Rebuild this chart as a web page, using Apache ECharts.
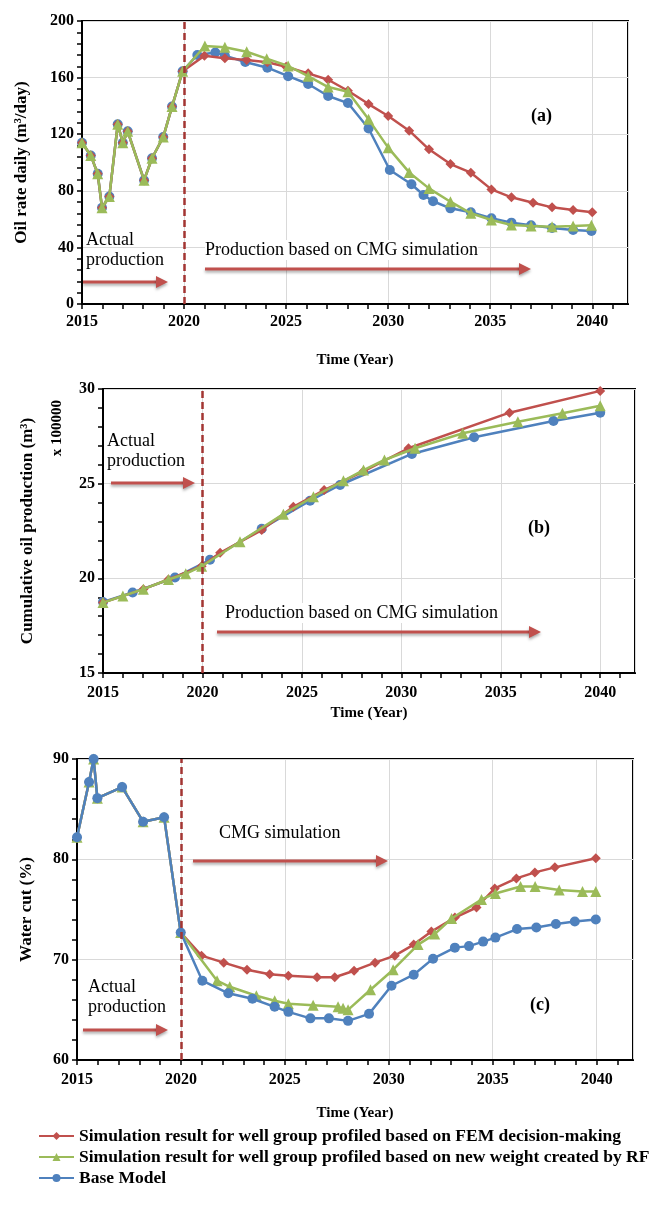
<!DOCTYPE html>
<html><head><meta charset="utf-8">
<script src="https://cdn.jsdelivr.net/npm/echarts@6/dist/echarts.min.js"></script>
<style>html,body{margin:0;padding:0;background:#fff}#c{width:652px;height:1211px}</style>
</head><body><div id="c"></div>
<script>
// ---------- DATA ----------
const seriesNames = [
  'Simulation result for well group profiled based on FEM decision-making',
  'Simulation result for well group profiled based on new weight created by RF',
  'Base Model'
];
const xTickLabels = [2015, 2020, 2025, 2030, 2035, 2040];

// Panel (a) oil rate daily
const a_histYears = [2015, 2015.43, 2015.77, 2015.98, 2016.34, 2016.75, 2017.0, 2017.24, 2018.04, 2018.43, 2018.98, 2019.41, 2019.93];
const a_histVals  = [114, 105, 92, 68, 76, 127, 114, 122, 87.5, 103, 118, 139.5, 164.5];
const a_redYears  = [2021.0, 2022.0, 2023.07, 2024.08, 2025.0, 2026.08, 2027.06, 2028.03, 2029.04, 2030.0, 2031.03, 2032.0, 2033.05, 2034.05, 2035.06, 2036.04, 2037.1, 2038.03, 2039.06, 2040.0];
const a_redVals   = [175.5, 173.6, 172.4, 170.8, 167.7, 163, 158.5, 150.7, 141.3, 132.9, 122.5, 109.3, 98.9, 92.8, 81, 75.4, 71.6, 68.3, 66.4, 64.8];
const a_greenYears= [2021.02, 2022.0, 2023.07, 2024.05, 2025.1, 2026.08, 2027.06, 2028.03, 2029.04, 2030.0, 2031.03, 2032.0, 2033.05, 2034.05, 2035.06, 2036.04, 2037.0, 2038.03, 2039.06, 2039.96];
const a_greenVals = [182.3, 181.4, 178.3, 173.4, 168.2, 161, 153.3, 150, 130.5, 110.5, 93, 81.7, 72.3, 64.1, 59.4, 55.8, 55.1, 54.6, 55.1, 55.6];
const a_blueYears = [2020.65, 2021.53, 2022.0, 2023.0, 2024.08, 2025.1, 2026.08, 2027.06, 2028.03, 2029.04, 2030.08, 2031.14, 2031.73, 2032.2, 2033.05, 2034.05, 2035.06, 2036.04, 2037.0, 2038.03, 2039.06, 2039.96];
const a_blueVals  = [176, 177.8, 175.5, 171, 167, 161, 155.5, 147, 142, 124, 94.7, 84.6, 77, 72.6, 67.6, 64.8, 60.6, 57.5, 55.6, 53.7, 52.3, 51.6];

// Panel (b) cumulative oil production (x 100000 m3)
const b_redYears  = [2015, 2017.03, 2018.29, 2019.96, 2020.89, 2022.98, 2024.57, 2026.12, 2028.1, 2030.36, 2035.44, 2040];
const b_redVals   = [18.72, 19.43, 19.94, 20.64, 21.35, 22.55, 23.78, 24.66, 25.65, 26.87, 28.75, 29.9];
const b_greenYears= [2015, 2016, 2017.03, 2018.29, 2019.16, 2019.96, 2021.89, 2024.07, 2025.58, 2027.09, 2028.1, 2029.15, 2030.69, 2033.09, 2035.86, 2038.1, 2040];
const b_greenVals = [18.72, 19.07, 19.43, 19.94, 20.24, 20.64, 21.93, 23.39, 24.31, 25.15, 25.72, 26.25, 26.87, 27.66, 28.27, 28.72, 29.12];
const b_blueYears = [2015, 2016.49, 2018.62, 2020.38, 2022.98, 2025.41, 2026.92, 2030.53, 2033.66, 2037.65, 2040];
const b_blueVals  = [18.75, 19.25, 20.04, 20.98, 22.62, 24.1, 24.93, 26.57, 27.45, 28.31, 28.75];

// Panel (c) water cut (%)
const c_histYears = [2015, 2015.58, 2015.8, 2015.98, 2017.17, 2018.18, 2019.19, 2019.99];
const c_histVals  = [82.2, 87.7, 90, 86.1, 87.2, 83.75, 84.2, 72.7];
const c_redYears  = [2020.99, 2022.06, 2023.18, 2024.27, 2025.17, 2026.55, 2027.4, 2028.33, 2029.34, 2030.29, 2031.2, 2032.05, 2033.18, 2034.22, 2035.1, 2036.14, 2037.03, 2037.99, 2039.96];
const c_redVals   = [70.4, 69.7, 69.0, 68.55, 68.4, 68.25, 68.25, 68.9, 69.7, 70.4, 71.5, 72.8, 74.2, 75.2, 77.1, 78.1, 78.7, 79.2, 80.1];
const c_greenYears= [2021.74, 2022.35, 2023.63, 2024.51, 2025.17, 2026.36, 2027.56, 2027.8, 2028.04, 2029.12, 2030.21, 2031.41, 2032.21, 2033.02, 2034.46, 2035.13, 2036.34, 2037.04, 2038.2, 2039.32, 2039.96];
const c_greenVals = [67.9, 67.3, 66.4, 65.9, 65.6, 65.45, 65.3, 65.15, 65.0, 67.0, 69.0, 71.5, 72.55, 74.1, 76.0, 76.6, 77.3, 77.3, 76.95, 76.8, 76.8];
const c_blueYears = [2021.03, 2022.28, 2023.44, 2024.51, 2025.17, 2026.23, 2027.12, 2028.04, 2029.05, 2030.13, 2031.2, 2032.13, 2033.18, 2033.86, 2034.54, 2035.13, 2036.17, 2037.1, 2038.04, 2038.95, 2039.96];
const c_blueVals  = [67.9, 66.65, 66.1, 65.3, 64.8, 64.15, 64.15, 63.9, 64.6, 67.4, 68.5, 70.1, 71.2, 71.35, 71.8, 72.2, 73.05, 73.2, 73.55, 73.8, 74.0];

const dividerYear = 2020;

// ---------- BUILD ----------
const RED = '#C0504D', GREEN = '#9BBB59', BLUE = '#4F81BD';
const FONT = '"Liberation Serif", "Times New Roman", serif';
const pairs = (xs, ys) => xs.map((x, i) => [x, ys[i]]);
const withHist = (hx, hy, xs, ys) => pairs(hx, hy).concat(pairs(xs, ys));

const grids = [
  {left: 82, top: 21, width: 546, height: 283},
  {left: 103, top: 389, width: 532, height: 284},
  {left: 77, top: 759, width: 556, height: 301}
];
const xNameGaps = [49, 33, 46];
const xLabelMargins = [10, 12, 12];

const xAxes = [];
grids.forEach((g, i) => {
  xAxes.push({
    type: 'value', gridIndex: i, min: 2015, max: 2041.75, interval: 1,
    name: 'Time (Year)', nameLocation: 'middle', nameGap: xNameGaps[i],
    nameTextStyle: {fontFamily: FONT, fontWeight: 'bold', fontSize: 15, color: '#000'},
    axisLine: {onZero: false, lineStyle: {color: '#000', width: 2}},
    axisTick: {show: true, length: 5, lineStyle: {color: '#000', width: 1.5}},
    axisLabel: {margin: xLabelMargins[i], fontFamily: FONT, fontWeight: 'bold', fontSize: 16, color: '#000',
      showMaxLabel: false,
      formatter: v => xTickLabels.indexOf(v) >= 0 ? String(v) : ''},
    splitLine: {show: false}
  });
});
grids.forEach((g, i) => {
  xAxes.push({
    type: 'value', gridIndex: i, min: 2015, max: 2041.75, interval: 5, position: 'bottom',
    axisLine: {show: false}, axisTick: {show: false}, axisLabel: {show: false},
    splitLine: {show: true, lineStyle: {color: '#D9D9D9', width: 1}}
  });
});

const yCommon = (i, min, max, interval, name, gap) => ({
  type: 'value', gridIndex: i, min, max, interval,
  name, nameLocation: 'middle', nameGap: gap,
  nameTextStyle: {fontFamily: FONT, fontWeight: 'bold', fontSize: 17, color: '#000'},
  axisLine: {show: true, onZero: false, lineStyle: {color: '#000', width: 2}},
  axisTick: {show: true, length: 5, lineStyle: {color: '#000', width: 1.5}},
  minorTick: {show: true, splitNumber: 5, length: 5, lineStyle: {color: '#000', width: 1.5}},
  axisLabel: {margin: 8, fontFamily: FONT, fontWeight: 'bold', fontSize: 16, color: '#000'},
  splitLine: {show: true, lineStyle: {color: '#D9D9D9', width: 1}}
});
const yAxes = [
  yCommon(0, 0, 200, 40, 'Oil rate daily (m³/day)', 52),
  yCommon(1, 15, 30, 5, 'Cumulative oil production (m³)', 67),
  yCommon(2, 60, 90, 10, 'Water cut (%)', 42)
];

const divider = {
  silent: true, symbol: ['none', 'none'], label: {show: false},
  lineStyle: {color: '#A33532', width: 2.5, type: [7, 4]},
  data: [{xAxis: dividerYear}]
};

function mk(name, color, symbol, size, data, gi, z, withDivider) {
  const s = {
    name, type: 'line', xAxisIndex: gi, yAxisIndex: gi, data, z,
    symbol, symbolSize: size, showAllSymbol: true,
    lineStyle: {color, width: 2.5}, itemStyle: {color},
    emphasis: {disabled: true}, animation: false
  };
  if (withDivider) s.markLine = divider;
  return s;
}

const series = [
  // panel a (green on top)
  mk(seriesNames[2], BLUE, 'circle', 10, withHist(a_histYears, a_histVals, a_blueYears, a_blueVals), 0, 2, true),
  mk(seriesNames[0], RED, 'diamond', 10, withHist(a_histYears, a_histVals, a_redYears, a_redVals), 0, 3, false),
  mk(seriesNames[1], GREEN, 'triangle', 11, withHist(a_histYears, a_histVals, a_greenYears, a_greenVals), 0, 4, false),
  // panel b
  mk(seriesNames[2], BLUE, 'circle', 10, pairs(b_blueYears, b_blueVals), 1, 2, true),
  mk(seriesNames[0], RED, 'diamond', 10, pairs(b_redYears, b_redVals), 1, 3, false),
  mk(seriesNames[1], GREEN, 'triangle', 11, pairs(b_greenYears, b_greenVals), 1, 4, false),
  // panel c (blue on top)
  mk(seriesNames[0], RED, 'diamond', 10, withHist(c_histYears, c_histVals, c_redYears, c_redVals), 2, 2, true),
  mk(seriesNames[1], GREEN, 'triangle', 11, withHist(c_histYears, c_histVals, c_greenYears, c_greenVals), 2, 3, false),
  mk(seriesNames[2], BLUE, 'circle', 10, withHist(c_histYears, c_histVals, c_blueYears, c_blueVals), 2, 4, false)
];

// ---------- annotations ----------
function arrow(x1, x2, y) {
  const sh = {shadowBlur: 3, shadowColor: 'rgba(0,0,0,0.35)', shadowOffsetY: 2};
  return [
    {type: 'line', z: 50, shape: {x1, y1: y, x2: x2 - 10, y2: y}, style: Object.assign({stroke: RED, lineWidth: 3}, sh)},
    {type: 'polygon', z: 50, shape: {points: [[x2 - 12, y - 6], [x2, y], [x2 - 12, y + 6]]}, style: Object.assign({fill: RED}, sh)}
  ];
}
function txt(x, y, text, opts) {
  return Object.assign({type: 'text', z: 50, x, y, style: Object.assign({
    text, fill: '#000', font: '18px ' + FONT, lineHeight: 20, textVerticalAlign: 'middle'
  }, opts || {})});
}
const bold = s => ({font: 'bold ' + s + 'px ' + FONT});

const graphics = [
  // (a)
  txt(86, 250, 'Actual\nproduction'),
  ...arrow(83, 168, 282),
  txt(205, 250, 'Production based on CMG simulation', {backgroundColor: '#fff'}),
  ...arrow(205, 531, 269),
  txt(531, 116, '(a)', bold(18)),
  // (b)
  txt(107, 451, 'Actual\nproduction'),
  ...arrow(111, 195, 483),
  txt(225, 613, 'Production based on CMG simulation', {backgroundColor: '#fff'}),
  ...arrow(217, 541, 632),
  txt(528, 528, '(b)', bold(18)),
  {type: 'text', z: 50, x: 57, y: 428, rotation: Math.PI / 2,
    style: {text: 'x 100000', fill: '#000', font: 'bold 15px ' + FONT, textAlign: 'center', textVerticalAlign: 'middle'}},
  // (c)
  txt(219, 833, 'CMG simulation'),
  ...arrow(193, 388, 861),
  txt(88, 997, 'Actual\nproduction'),
  ...arrow(83, 168, 1030),
  txt(530, 1005, '(c)', bold(18))
];

const chart = echarts.init(document.getElementById('c'), null, {renderer: 'canvas'});
chart.setOption({
  animation: false,
  backgroundColor: '#fff',
  grid: grids.map(g => Object.assign({show: true, borderColor: '#000', borderWidth: 2, backgroundColor: '#fff'}, g)),
  xAxis: xAxes,
  yAxis: yAxes,
  legend: {
    data: [seriesNames[0], seriesNames[1], seriesNames[2]],
    orient: 'vertical', left: 33, top: 1122, itemGap: 3,
    itemWidth: 35, itemHeight: 10,
    textStyle: {fontFamily: FONT, fontWeight: 'bold', fontSize: 17.5, color: '#000'},
    selectedMode: false
  },
  series,
  graphic: graphics
});
</script>
</body></html>
